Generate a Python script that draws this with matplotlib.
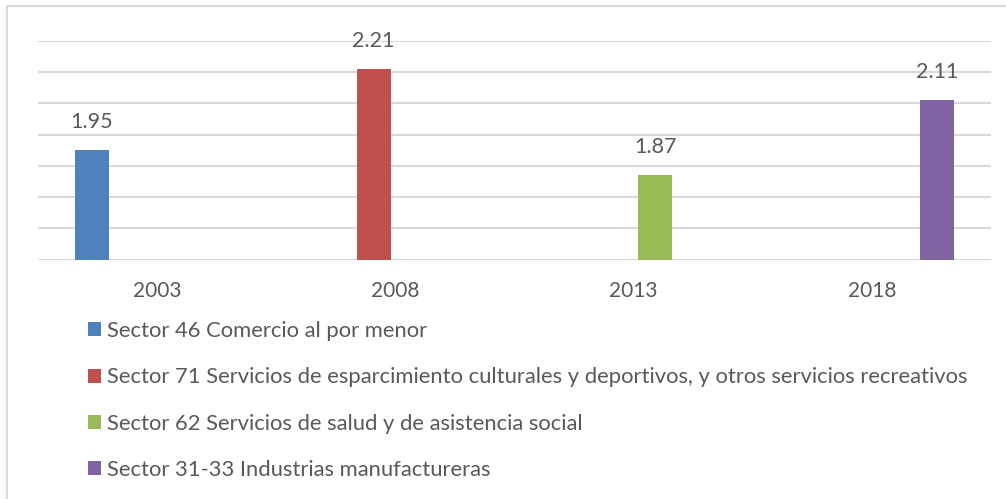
import numpy as np
import matplotlib
matplotlib.use('Agg')
import matplotlib.pyplot as plt
from matplotlib.patches import Rectangle

# --- Données ---
years = ['2003', '2008', '2013', '2018']
series_names = [
    'Sector 46 Comercio al por menor',
    'Sector 71 Servicios de esparcimiento culturales y deportivos, y otros servicios recreativos',
    'Sector 62 Servicios de salud y de asistencia social',
    'Sector 31-33 Industrias manufactureras',
]
# une seule valeur par année, les autres séries sont vides
sector46 = [1.95, np.nan, np.nan, np.nan]
sector71 = [np.nan, 2.21, np.nan, np.nan]
sector62 = [np.nan, np.nan, 1.87, np.nan]
sector31 = [np.nan, np.nan, np.nan, 2.11]
colors = ['#4F81BD', '#C0504D', '#9BBB59', '#8064A2']

plt.rcParams['font.family'] = ['Lato', 'DejaVu Sans']
text_color = '#595959'
grid_color = '#D9D9D9'

fig = plt.figure(figsize=(10.06, 4.99), dpi=100)
W, H = 1006, 499
ax = fig.add_axes([38 / W, (H - 259.7) / H, 953 / W, 218.7 / H])

x = np.arange(len(years))
step = 0.183
width = 0.143
all_series = [sector46, sector71, sector62, sector31]
containers = []
for i, (vals, name, c) in enumerate(zip(all_series, series_names, colors)):
    bc = ax.bar(x + (i - 1.5) * step, vals, width, color=c, label=name, zorder=3)
    containers.append(bc)
    labels = ['' if np.isnan(v) else f'{v:.2f}' for v in vals]
    ax.bar_label(bc, labels=labels, padding=13, fontsize=15.5, color=text_color)

ax.set_xlim(-0.5, 3.5)
ax.set_ylim(1.6, 2.3)
ax.set_yticks(np.arange(1.6, 2.31, 0.1))
ax.set_yticklabels([])
ax.tick_params(axis='y', length=0)
ax.set_xticks(x)
ax.set_xticklabels(years, fontsize=15, color=text_color)
ax.tick_params(axis='x', length=0, pad=15)
ax.grid(axis='y', color=grid_color, linewidth=1.5, zorder=0)
for s in ax.spines.values():
    s.set_visible(False)

fig.legend(handles=containers, loc='upper left', bbox_to_anchor=(88 / W, 1 - 321 / H),
           frameon=False, fontsize=15.8, labelcolor=text_color,
           handlelength=0.6, handleheight=0.6, handletextpad=0.25,
           labelspacing=1.2, borderaxespad=0, borderpad=0)

# cadre du graphique
fig.add_artist(Rectangle((7 / W, -0.1), 1.2, (H - 6) / H + 0.1, transform=fig.transFigure,
                         fill=False, edgecolor=grid_color, linewidth=1.5))

fig.savefig('out.png', dpi=100)
